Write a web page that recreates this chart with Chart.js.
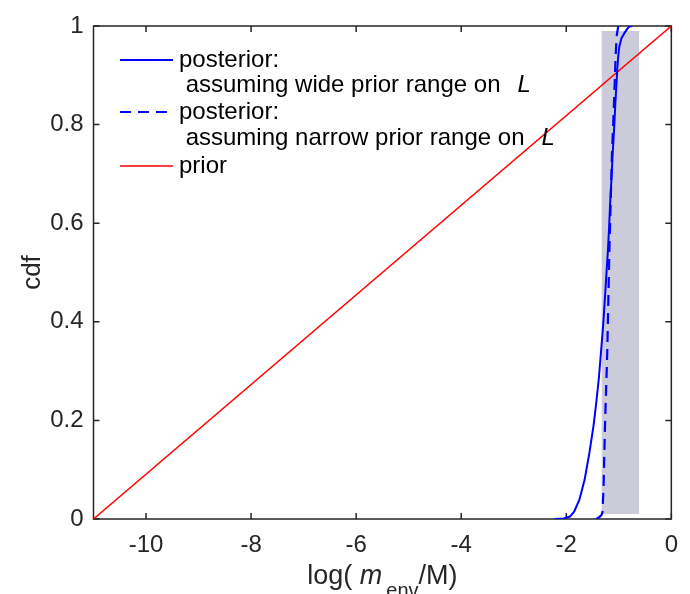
<!DOCTYPE html>
<html>
<head>
<meta charset="utf-8">
<script src="https://cdn.jsdelivr.net/npm/chart.js@4/dist/chart.umd.min.js"></script>
<style>
  html, body { margin: 0; padding: 0; background: #fff; }
  #wrap { width: 690px; height: 594px; }
</style>
</head>
<body>
<div id="wrap"><canvas id="cdf" width="690" height="594"></canvas></div>
<script>
// values
const xTicks = [-10, -8, -6, -4, -2, 0];
const yTicks = [0, 0.2, 0.4, 0.6, 0.8, 1];

const wideX = [-2.22, -2.05, -1.93, -1.85, -1.75, -1.65, -1.56, -1.48, -1.43, -1.38, -1.34, -1.30, -1.27, -1.24, -1.21, -1.185, -1.165, -1.14, -1.116, -1.09, -1.065, -1.045, -1.03, -1.01, -0.99, -0.95, -0.89, -0.84, -0.80, -0.74];
const wideY = [0, 0.001, 0.005, 0.015, 0.039, 0.08, 0.134, 0.19, 0.235, 0.285, 0.337, 0.39, 0.438, 0.49, 0.54, 0.59, 0.641, 0.69, 0.742, 0.79, 0.844, 0.88, 0.911, 0.94, 0.958, 0.975, 0.986, 0.994, 0.999, 1.0];

const narrowX = [-1.43, -1.38, -1.33, -1.31, -1.29, -1.26, -1.22, -1.20, -1.18, -1.155, -1.13, -1.10, -1.08, -1.06, -1.04, -1.01];
const narrowY = [0, 0.003, 0.008, 0.014, 0.067, 0.2, 0.337, 0.44, 0.54, 0.64, 0.742, 0.82, 0.878, 0.94, 0.98, 1.0];

const priorX = [-11, 0];
const priorY = [0, 1];

// shaded band
const bandX = [-1.33, -0.61];
const bandTop = [0.99, 0.99];
const bandBottom = 0.01;

const legendRows = [
  ["posterior:", " assuming wide prior range on", "L"],
  ["posterior:", " assuming narrow prior range on", "L"],
  ["prior"]
];

const FONT = "'Liberation Sans', Arial, Helvetica, sans-serif";
const INK = "#262626";

const toPoints = (xs, ys) => xs.map((x, i) => ({ x, y: ys[i] }));

// box, inward ticks, titles and legend, MATLAB style
const axesDecor = {
  id: "axesDecor",
  beforeDatasetsDraw(chart) {
    const { ctx, chartArea: a, scales } = chart;
    ctx.save();
    ctx.strokeStyle = INK;
    ctx.lineWidth = 1.5;
    ctx.strokeRect(a.left, a.top, a.right - a.left, a.bottom - a.top);
    const len = 6;
    ctx.beginPath();
    xTicks.forEach(v => {
      const px = scales.x.getPixelForValue(v);
      ctx.moveTo(px, a.bottom); ctx.lineTo(px, a.bottom - len);
      ctx.moveTo(px, a.top); ctx.lineTo(px, a.top + len);
    });
    yTicks.forEach(v => {
      const py = scales.y.getPixelForValue(v);
      ctx.moveTo(a.left, py); ctx.lineTo(a.left + len, py);
      ctx.moveTo(a.right, py); ctx.lineTo(a.right - len, py);
    });
    ctx.stroke();
    ctx.restore();
  },
  afterDraw(chart) {
    const { ctx, chartArea: a } = chart;
    ctx.save();
    ctx.fillStyle = INK;

    // x title: log( m_env/M)
    const parts = [
      { t: "log( ", f: "27px " + FONT, dy: 0 },
      { t: "m", f: "italic 27px " + FONT, dy: 0 },
      { t: "env", f: "20px " + FONT, dy: 13 },
      { t: "/M)", f: "27px " + FONT, dy: 0 }
    ];
    let total = 0;
    parts.forEach(p => { ctx.font = p.f; p.w = ctx.measureText(p.t).width; total += p.w; });
    total += 4;
    let x = (a.left + a.right) / 2 - total / 2;
    ctx.textBaseline = "alphabetic";
    ctx.textAlign = "left";
    parts.forEach((p, i) => {
      ctx.font = p.f;
      ctx.fillText(p.t, x, 584 + p.dy);
      x += p.w + (i === 1 ? 4 : 0);
    });

    // y title
    ctx.save();
    ctx.translate(33, (a.top + a.bottom) / 2);
    ctx.rotate(-Math.PI / 2);
    ctx.font = "26px " + FONT;
    ctx.textAlign = "center";
    ctx.textBaseline = "middle";
    ctx.fillText("cdf", 0, 0);
    ctx.restore();

    // legend
    const rowY = [[60, 85], [112, 138], [166]];
    const ds = chart.data.datasets;
    ctx.textBaseline = "middle";
    legendRows.forEach((row, i) => {
      const d = ds[i];
      ctx.save();
      ctx.strokeStyle = d.borderColor;
      ctx.lineWidth = d.borderWidth;
      ctx.setLineDash(d.borderDash || []);
      ctx.beginPath();
      ctx.moveTo(120, rowY[i][0]);
      ctx.lineTo(173, rowY[i][0]);
      ctx.stroke();
      ctx.restore();
      ctx.fillStyle = "#000";
      ctx.font = "24px " + FONT;
      ctx.fillText(row[0], 179, rowY[i][0]);
      if (row[1]) {
        ctx.fillText(row[1], 179, rowY[i][1]);
        const w = ctx.measureText(row[1]).width;
        ctx.font = "italic 24px " + FONT;
        ctx.fillText(row[2], 179 + w + 17, rowY[i][1]);
      }
    });
    ctx.restore();
  }
};

new Chart(document.getElementById("cdf"), {
  type: "line",
  data: {
    datasets: [
      {
        label: "posterior wide",
        data: toPoints(wideX, wideY),
        borderColor: "#0000ff",
        borderWidth: 2,
        pointRadius: 0,
        order: 1
      },
      {
        label: "posterior narrow",
        data: toPoints(narrowX, narrowY),
        borderColor: "#0000ff",
        borderWidth: 2.2,
        borderDash: [11, 7],
        pointRadius: 0,
        order: 2
      },
      {
        label: "prior",
        data: toPoints(priorX, priorY),
        borderColor: "#ff0000",
        borderWidth: 1.5,
        pointRadius: 0,
        order: 3
      },
      {
        label: "band",
        data: toPoints(bandX, bandTop),
        borderWidth: 0,
        borderColor: "rgba(0,0,0,0)",
        backgroundColor: "#cbcbd9",
        fill: { value: bandBottom },
        pointRadius: 0,
        order: 10
      }
    ]
  },
  options: {
    responsive: false,
    animation: false,
    layout: { padding: { top: 26, right: 18, left: 0, bottom: 0 } },
    plugins: {
      legend: { display: false },
      tooltip: { enabled: false },
      title: { display: false }
    },
    scales: {
      x: {
        type: "linear",
        min: -11,
        max: 0,
        afterBuildTicks: s => { s.ticks = xTicks.map(v => ({ value: v })); },
        afterFit: s => { s.height = 75; },
        grid: { display: false, drawTicks: false },
        border: { display: false },
        ticks: {
          padding: 12,
          color: INK,
          font: { family: FONT, size: 24 },
          maxRotation: 0,
          callback: v => String(v)
        }
      },
      y: {
        type: "linear",
        min: 0,
        max: 1,
        afterBuildTicks: s => { s.ticks = yTicks.map(v => ({ value: v })); },
        afterFit: s => { s.width = 93.5; },
        grid: { display: false, drawTicks: false },
        border: { display: false },
        ticks: {
          padding: 10,
          color: INK,
          font: { family: FONT, size: 24 },
          callback: v => String(v)
        }
      }
    }
  },
  plugins: [axesDecor]
});
</script>
</body>
</html>
